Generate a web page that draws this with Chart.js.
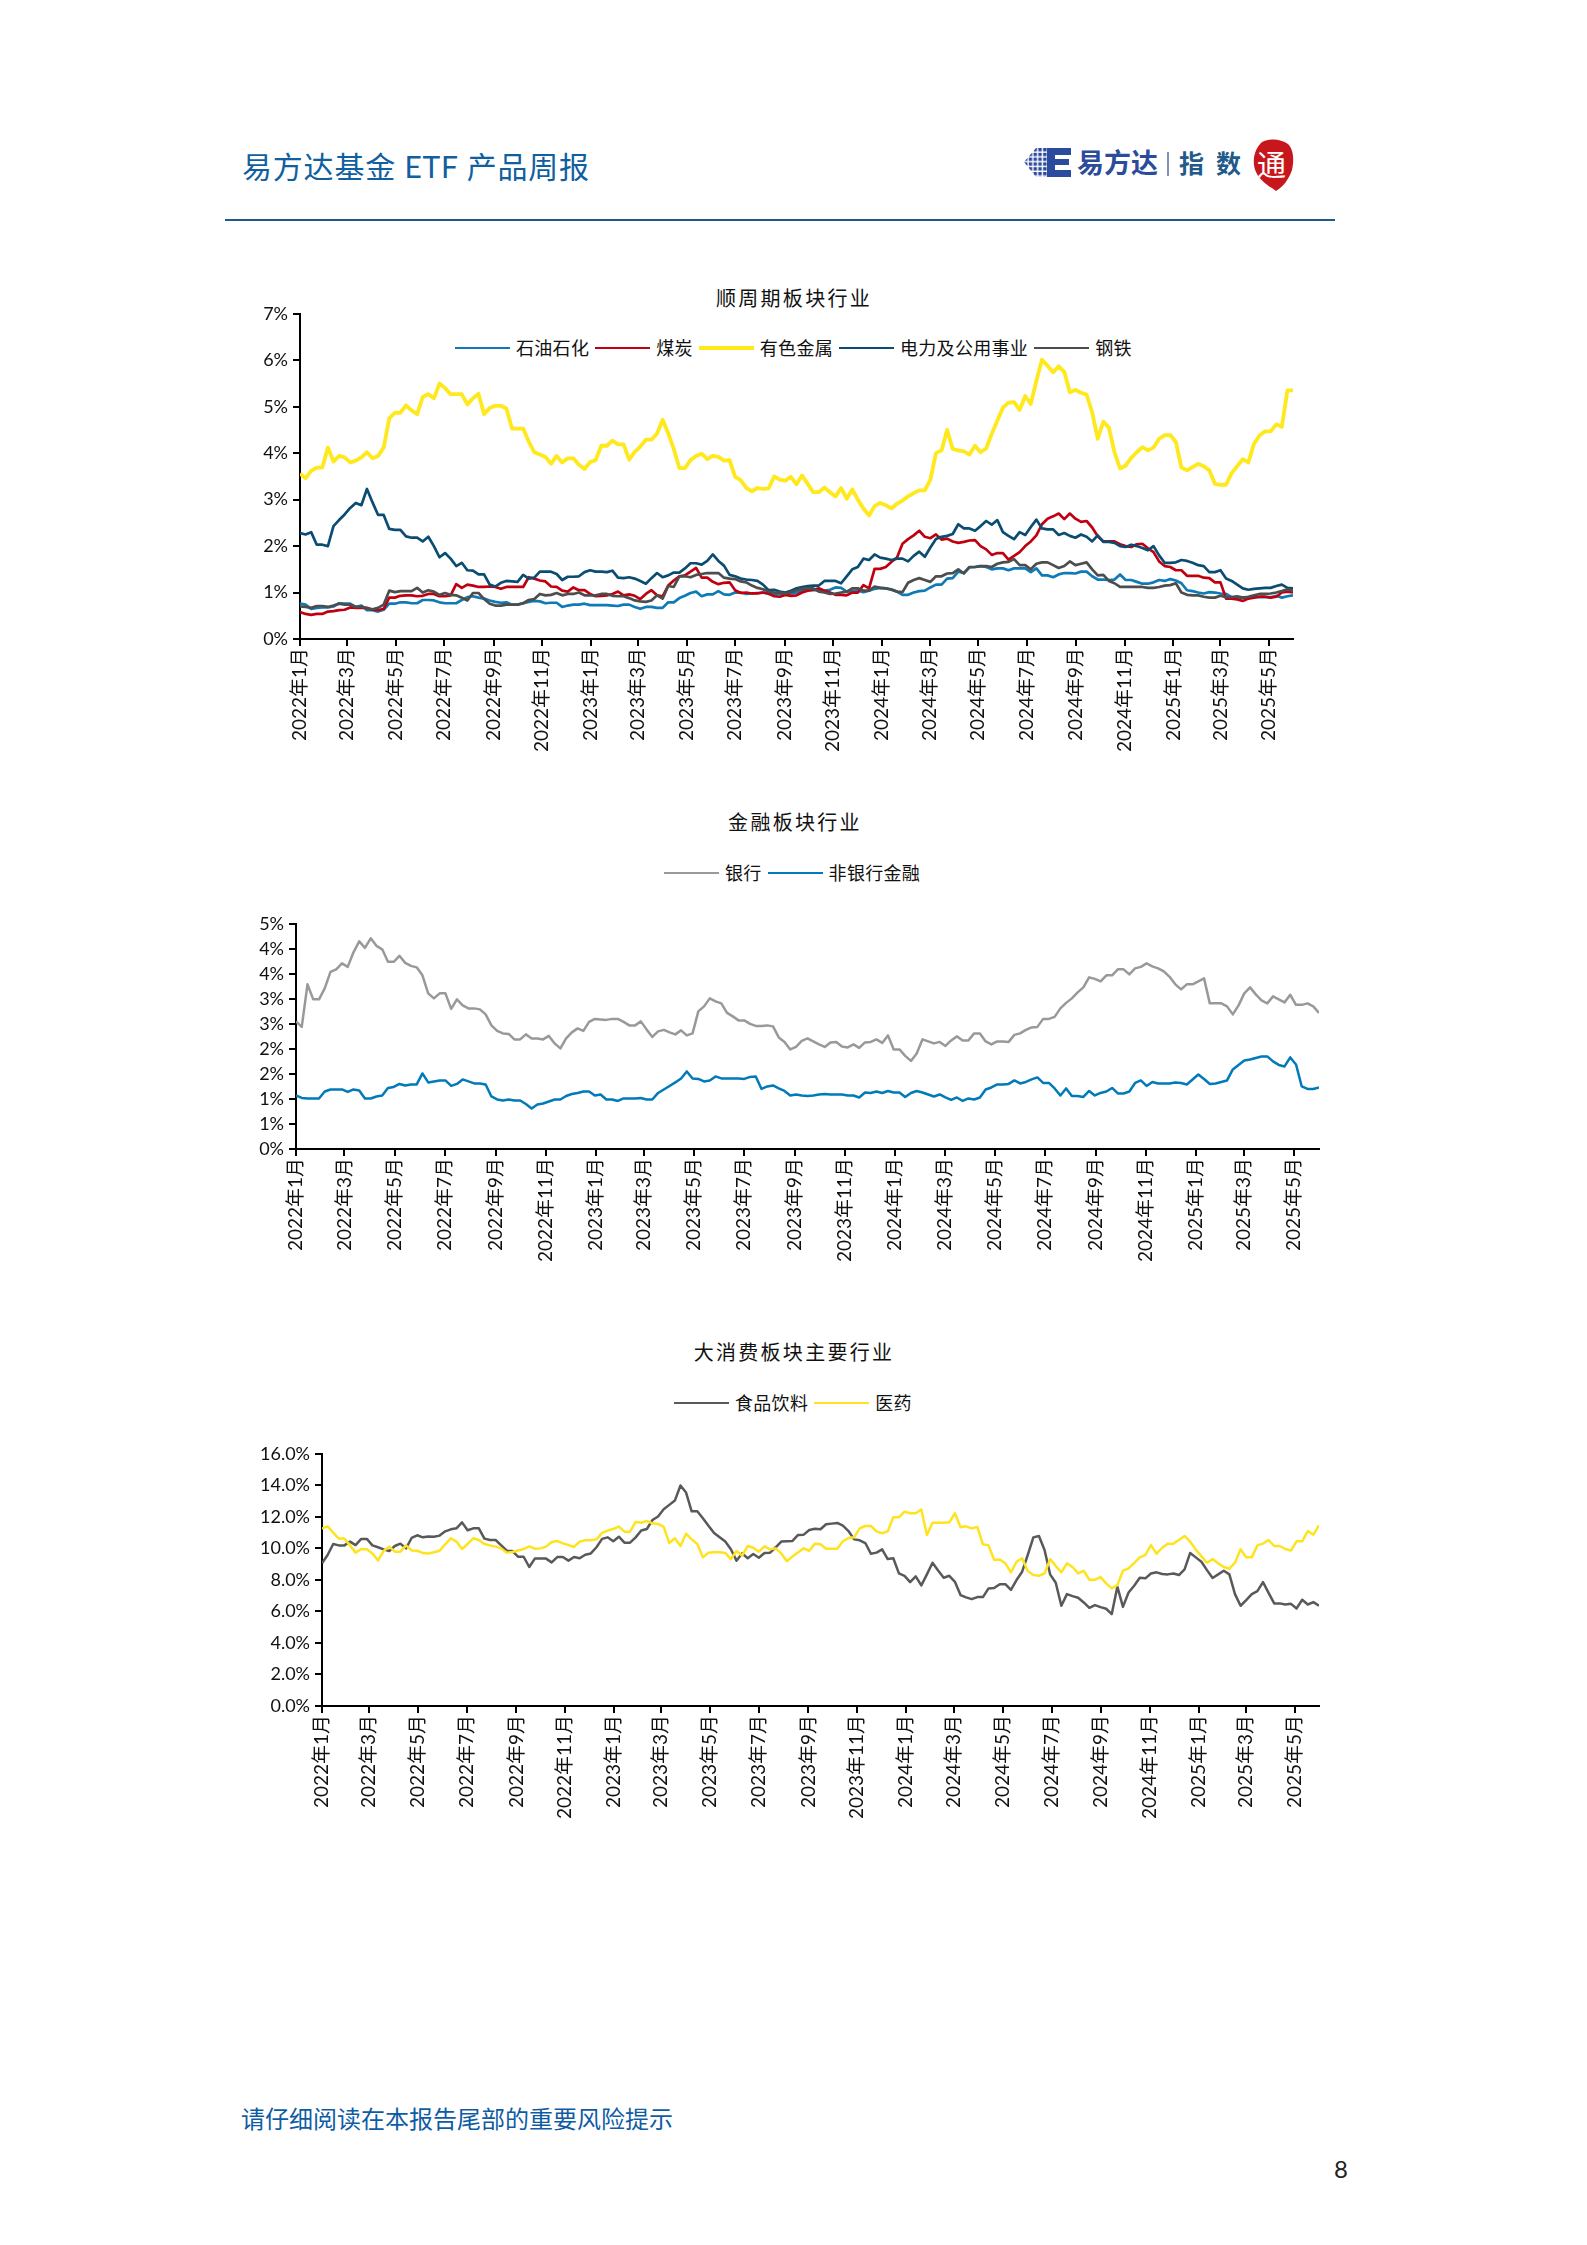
<!DOCTYPE html>
<html lang="zh-CN">
<head>
<meta charset="utf-8">
<title>易方达基金 ETF 产品周报</title>
<script src="https://cdn.jsdelivr.net/npm/chart.js@4"></script>
<style>
  html, body { margin: 0; padding: 0; background: #fff; }
  #page { position: relative; width: 1587px; height: 2245px; overflow: hidden; font-family: Lato, "Noto Sans CJK SC", sans-serif; color: #111; }
  #page > * { position: absolute; }
  .header { left: 242px; top: 144px; font-size: 30px; line-height: 44px; color: #10609f; letter-spacing: .8px; white-space: pre; }
  .rule { left: 225px; top: 219px; width: 1110px; height: 1.5px; background: #1d5a8c; }
  .footer { left: 241px; top: 2102px; font-size: 24px; line-height: 34px; color: #0f5ca5; }
  .pageno { left: 1334px; top: 2154px; font-size: 24px; line-height: 30px; color: #222; }
  .title { width: 400px; margin-left: -200px; text-align: center; font-size: 20px; line-height: 28px; letter-spacing: 2.3px; }
  .legend { display: flex; align-items: center; height: 24px; font-size: 18px; line-height: 24px; white-space: nowrap; letter-spacing: .3px; }
  .legend i { display: block; width: 55px; height: 3px; margin: 0 6px 0 6px; }
  .legend i:first-child { margin-left: 0; }
  canvas { display: block; }
</style>
</head>
<body>
<div id="page">
  <div class="header">易方达基金 ETF 产品周报</div>
  <svg style="left:1020px;top:135px" width="280" height="60" viewBox="1020 135 280 60">
    <defs><pattern id="dots" x="1024" y="148" width="4.8" height="4.8" patternUnits="userSpaceOnUse"><rect width="3.4" height="3.4" fill="#2b4a9c"/></pattern></defs>
    <polygon points="1024,162 1036,148 1048,148 1048,177 1036,177" fill="url(#dots)"/>
    <path d="M1047 148h24v7h-16v4h14v6h-14v5h16v7h-24z" fill="#2a4b9e"/>
    <text x="1077" y="173" font-size="27" font-weight="700" fill="#2b4c9b" font-family="Noto Sans CJK SC">易方达</text>
    <rect x="1167" y="152" width="2" height="24" fill="#7f93b8"/>
    <text x="1179" y="173" font-size="25" font-weight="700" fill="#1f5a8a" font-family="Noto Sans CJK SC">指</text>
    <text x="1216" y="173" font-size="25" font-weight="700" fill="#1f5a8a" font-family="Noto Sans CJK SC">数</text>
    <path d="M1262 142c8-4 19-3 26 2 6 6 6 17 4 26-3 9-9 17-16 21-7-5-16-10-20-19-5-11-1-24 6-30z" fill="#c8161d"/>
    <text x="1257" y="176" font-size="29" fill="#fff" font-family="Noto Sans CJK SC">通</text>
  </svg>
  <div class="rule"></div>

  <div class="title" style="left:794px;top:284px">顺周期板块行业</div>
  <div class="legend" id="legend1" style="left:455px;top:336px"></div>
  <canvas id="chart1" style="left:220px;top:298px" width="1100" height="472"></canvas>

  <div class="title" style="left:795px;top:808px">金融板块行业</div>
  <div class="legend" id="legend2" style="left:664px;top:861px"></div>
  <canvas id="chart2" style="left:220px;top:908px" width="1120" height="372"></canvas>

  <div class="title" style="left:794px;top:1338px">大消费板块主要行业</div>
  <div class="legend" id="legend3" style="left:674px;top:1391px"></div>
  <canvas id="chart3" style="left:220px;top:1438px" width="1120" height="402"></canvas>

  <div class="footer">请仔细阅读在本报告尾部的重要风险提示</div>
  <div class="pageno">8</div>
</div>

<script>
/* ============================
   AXIS LABELS
   ============================ */

const tickDates = [
  "2022-01-01", "2022-03-01", "2022-05-01", "2022-07-01", "2022-09-01", "2022-11-01",
  "2023-01-01", "2023-03-01", "2023-05-01", "2023-07-01", "2023-09-01", "2023-11-01",
  "2024-01-01", "2024-03-01", "2024-05-01", "2024-07-01", "2024-09-01", "2024-11-01",
  "2025-01-01", "2025-03-01", "2025-05-01"
];

const tickLabels = [
  "2022年1月", "2022年3月", "2022年5月", "2022年7月", "2022年9月", "2022年11月",
  "2023年1月", "2023年3月", "2023年5月", "2023年7月", "2023年9月", "2023年11月",
  "2024年1月", "2024年3月", "2024年5月", "2024年7月", "2024年9月", "2024年11月",
  "2025年1月", "2025年3月", "2025年5月"
];

const cycleTicks = ["0%", "1%", "2%", "3%", "4%", "5%", "6%", "7%"];
const financeTicks = ["0%", "1%", "1%", "2%", "2%", "3%", "3%", "4%", "4%", "5%"];
const consumerTicks = ["0.0%", "2.0%", "4.0%", "6.0%", "8.0%", "10.0%", "12.0%", "14.0%", "16.0%"];

/* ============================
   WEEKLY SERIES (%)
   ============================ */

const oil = [
  .76,.74,.65,.67,.68,.68,.70,.77,.76,.76,
  .69,.72,.62,.62,.59,.63,.76,.76,.79,.79,
  .77,.77,.84,.84,.83,.79,.77,.77,.77,.84,
  .90,.92,.89,.87,.83,.80,.78,.79,.74,.74,
  .77,.80,.82,.81,.77,.78,.78,.69,.72,.74,
  .74,.76,.73,.73,.73,.73,.72,.71,.74,.74,
  .69,.65,.69,.69,.67,.67,.79,.79,.88,.93,
  .99,1.02,.92,.96,.96,1.03,.96,.95,1.00,1.00,
  .97,.98,.99,1.00,.97,.95,.97,.98,.98,1.00,
  1.03,1.05,1.05,1.05,1.04,1.06,1.11,1.10,1.02,1.03,
  1.04,1.01,1.04,1.08,1.10,1.09,1.07,1.02,.95,.95,
  1.00,1.03,1.04,1.11,1.17,1.17,1.30,1.31,1.45,1.42,
  1.54,1.55,1.57,1.55,1.50,1.52,1.52,1.48,1.52,1.52,
  1.52,1.44,1.52,1.37,1.37,1.33,1.39,1.42,1.42,1.41,
  1.45,1.45,1.35,1.28,1.28,1.27,1.28,1.39,1.27,1.27,
  1.23,1.19,1.19,1.22,1.27,1.25,1.29,1.26,1.20,1.05,
  1.03,1.00,.98,1.01,1.00,.98,.97,.90,.89,.89,
  .89,.91,.90,.90,.90,.93,.89,.92,.94
];

const coal = [
  .58,.54,.52,.54,.54,.59,.60,.62,.63,.68,
  .67,.67,.67,.63,.62,.65,.89,.89,.93,.94,
  .94,.92,.93,.97,.97,.92,.92,.94,1.18,1.10,
  1.17,1.15,1.12,1.12,1.13,1.12,1.08,1.12,1.12,1.12,
  1.12,1.33,1.30,1.26,1.24,1.13,1.12,1.04,1.02,1.11,
  1.05,1.05,.97,.92,.93,.94,.97,1.02,.94,.96,
  .93,.86,.97,1.05,.94,.92,1.15,1.26,1.35,1.37,
  1.45,1.53,1.32,1.32,1.23,1.18,1.21,1.22,1.05,.99,
  1.00,.98,.98,1.00,.98,.92,.91,.95,.93,.94,
  1.00,1.04,1.06,1.09,1.04,1.00,.95,.95,.94,1.00,
  1.00,1.16,1.09,1.51,1.51,1.55,1.66,1.75,2.05,2.15,
  2.23,2.33,2.20,2.17,2.25,2.14,2.16,2.10,2.07,2.09,
  2.12,2.13,2.00,1.93,1.81,1.85,1.85,1.71,1.79,1.87,
  2.00,2.10,2.23,2.47,2.59,2.64,2.70,2.58,2.70,2.59,
  2.52,2.54,2.40,2.21,2.10,2.10,2.10,2.04,2.00,1.98,
  2.04,2.05,1.95,1.87,1.67,1.57,1.55,1.48,1.48,1.36,
  1.36,1.36,1.32,1.31,1.22,1.22,.87,.87,.85,.82,
  .87,.89,.91,.91,.89,.91,1.00,1.02,1.00
];

const metals = [
  3.56,3.46,3.62,3.69,3.69,4.12,3.82,3.94,3.91,3.80,
  3.84,3.91,4.02,3.89,3.94,4.12,4.75,4.87,4.87,5.03,
  4.92,4.84,5.21,5.27,5.18,5.50,5.40,5.27,5.27,5.27,
  5.05,5.18,5.28,4.84,4.97,5.02,5.02,4.96,4.53,4.53,
  4.53,4.25,4.02,3.97,3.92,3.77,3.94,3.80,3.89,3.89,
  3.75,3.66,3.81,3.85,4.16,4.16,4.27,4.19,4.19,3.86,
  4.03,4.14,4.29,4.29,4.42,4.72,4.43,4.09,3.68,3.68,
  3.85,3.94,3.99,3.87,3.94,3.92,3.84,3.85,3.49,3.42,
  3.25,3.18,3.25,3.23,3.24,3.50,3.43,3.41,3.49,3.33,
  3.52,3.34,3.16,3.16,3.26,3.16,3.07,3.25,3.02,3.22,
  3.00,2.81,2.66,2.86,2.93,2.88,2.81,2.91,2.98,3.07,
  3.14,3.20,3.20,3.43,4.00,4.06,4.50,4.09,4.06,4.04,
  3.97,4.16,4.02,4.10,4.42,4.70,4.98,5.09,5.10,4.93,
  5.23,5.06,5.56,6.01,5.88,5.74,5.87,5.75,5.31,5.36,
  5.30,5.26,4.88,4.31,4.68,4.55,4.02,3.67,3.73,3.90,
  4.02,4.13,4.06,4.12,4.31,4.39,4.39,4.24,3.69,3.63,
  3.70,3.77,3.72,3.63,3.34,3.32,3.32,3.57,3.72,3.87,
  3.80,4.20,4.38,4.47,4.47,4.62,4.57,5.35,5.35
];

const power = [
  2.28,2.25,2.30,2.03,2.03,2.00,2.43,2.56,2.68,2.82,
  2.93,2.88,3.23,2.94,2.67,2.67,2.37,2.35,2.35,2.21,
  2.18,2.18,2.10,2.20,2.00,1.76,1.85,1.73,1.57,1.64,
  1.48,1.47,1.39,1.39,1.17,1.13,1.21,1.25,1.24,1.23,
  1.38,1.30,1.32,1.45,1.45,1.45,1.40,1.27,1.34,1.34,
  1.35,1.44,1.48,1.45,1.45,1.44,1.47,1.32,1.31,1.33,
  1.30,1.25,1.19,1.31,1.42,1.33,1.37,1.43,1.43,1.52,
  1.63,1.63,1.60,1.68,1.82,1.68,1.58,1.38,1.35,1.30,
  1.28,1.27,1.25,1.17,1.05,1.06,1.02,1.00,1.04,1.09,
  1.12,1.14,1.15,1.15,1.25,1.25,1.25,1.20,1.35,1.50,
  1.55,1.73,1.70,1.82,1.75,1.73,1.70,1.73,1.73,1.67,
  1.79,1.88,1.77,1.97,2.15,2.20,2.22,2.26,2.47,2.38,
  2.38,2.33,2.43,2.54,2.46,2.56,2.30,2.22,2.15,2.30,
  2.24,2.41,2.57,2.38,2.36,2.36,2.24,2.28,2.22,2.18,
  2.25,2.20,2.10,2.23,2.09,2.09,2.07,2.00,1.98,2.03,
  2.00,1.96,1.91,2.00,1.80,1.64,1.64,1.65,1.70,1.68,
  1.64,1.59,1.57,1.44,1.44,1.48,1.30,1.25,1.17,1.09,
  1.06,1.08,1.09,1.10,1.10,1.14,1.17,1.10,1.09
];

const steel = [
  .70,.69,.67,.71,.71,.69,.72,.76,.74,.74,
  .69,.70,.66,.64,.67,.74,1.04,1.01,1.03,1.03,
  1.03,1.10,1.00,1.05,1.02,.95,.99,.95,.94,.89,
  .83,.99,.99,.86,.76,.72,.72,.74,.74,.74,
  .77,.84,.86,.97,.94,.95,.99,.94,.97,.97,
  1.00,.94,.94,.94,.97,.97,.93,.92,.92,.88,
  .83,.81,.80,.83,.94,.87,1.14,1.12,1.35,1.35,
  1.33,1.38,1.40,1.42,1.42,1.42,1.32,1.30,1.29,1.24,
  1.22,1.15,1.10,1.07,1.02,1.00,1.00,.98,1.01,1.05,
  1.08,1.09,1.09,1.02,1.00,.97,.98,1.00,1.02,1.09,
  1.09,1.04,1.04,1.13,1.10,1.09,1.06,1.02,1.01,1.21,
  1.27,1.31,1.27,1.23,1.35,1.35,1.41,1.42,1.50,1.41,
  1.55,1.55,1.57,1.57,1.55,1.62,1.65,1.66,1.72,1.59,
  1.59,1.50,1.62,1.65,1.65,1.59,1.53,1.57,1.67,1.59,
  1.62,1.65,1.50,1.37,1.38,1.25,1.20,1.12,1.12,1.12,
  1.12,1.12,1.10,1.10,1.12,1.15,1.16,1.20,1.00,.95,
  .94,.94,.91,.89,.89,.93,.90,.90,.92,.89,
  .91,.94,.97,.97,.98,1.00,1.03,1.07,1.04
];

const banks = [
  2.55,2.44,3.29,2.99,2.99,3.21,3.54,3.59,3.71,3.64,
  3.93,4.15,4.02,4.21,4.06,3.99,3.74,3.74,3.86,3.72,
  3.66,3.63,3.47,3.11,3.01,3.11,3.11,2.80,2.99,2.87,
  2.81,2.81,2.79,2.69,2.47,2.36,2.31,2.30,2.19,2.19,
  2.29,2.21,2.21,2.19,2.26,2.11,2.01,2.21,2.33,2.41,
  2.36,2.54,2.60,2.59,2.58,2.60,2.60,2.54,2.47,2.47,
  2.55,2.39,2.24,2.35,2.38,2.33,2.29,2.37,2.27,2.31,
  2.75,2.85,3.01,2.95,2.91,2.72,2.65,2.57,2.57,2.50,
  2.46,2.46,2.47,2.45,2.23,2.14,1.99,2.04,2.16,2.21,
  2.15,2.09,2.04,2.13,2.14,2.05,2.03,2.09,2.02,2.13,
  2.14,2.19,2.12,2.27,1.99,1.99,1.86,1.76,1.91,2.19,
  2.15,2.11,2.14,2.06,2.17,2.25,2.17,2.17,2.31,2.31,
  2.15,2.09,2.15,2.15,2.14,2.28,2.31,2.38,2.43,2.44,
  2.60,2.60,2.64,2.81,2.92,3.01,3.13,3.23,3.43,3.40,
  3.35,3.47,3.47,3.59,3.59,3.49,3.61,3.64,3.71,3.65,
  3.61,3.55,3.44,3.29,3.19,3.29,3.29,3.35,3.41,2.91,
  2.91,2.91,2.85,2.69,2.87,3.11,3.23,3.09,2.97,2.91,
  3.05,2.99,2.93,3.08,2.88,2.88,2.91,2.85,2.72
];

const nonBanks = [
  1.07,1.02,1.01,1.01,1.01,1.15,1.19,1.19,1.19,1.14,
  1.19,1.17,1.01,1.01,1.05,1.07,1.22,1.24,1.30,1.27,
  1.29,1.29,1.51,1.33,1.35,1.37,1.37,1.26,1.30,1.39,
  1.35,1.31,1.31,1.29,1.05,.99,.97,.99,.97,.97,
  .90,.81,.89,.91,.95,.99,.99,1.06,1.10,1.12,
  1.15,1.15,1.07,1.09,.99,.99,.96,1.01,1.01,1.01,
  1.02,.99,.99,1.12,1.19,1.26,1.33,1.41,1.55,1.41,
  1.40,1.35,1.37,1.45,1.41,1.41,1.41,1.41,1.40,1.44,
  1.45,1.20,1.25,1.27,1.21,1.16,1.07,1.09,1.07,1.06,
  1.07,1.09,1.10,1.09,1.09,1.09,1.07,1.07,1.03,1.13,
  1.12,1.15,1.12,1.16,1.13,1.13,1.04,1.12,1.16,1.13,
  1.09,1.05,1.09,1.03,.98,1.03,.96,1.01,.99,1.03,
  1.19,1.23,1.29,1.29,1.30,1.37,1.31,1.34,1.39,1.43,
  1.32,1.32,1.21,1.07,1.21,1.06,1.06,1.04,1.16,1.07,
  1.12,1.15,1.22,1.11,1.11,1.15,1.32,1.37,1.26,1.34,
  1.31,1.31,1.31,1.33,1.32,1.29,1.39,1.49,1.40,1.30,
  1.31,1.34,1.37,1.59,1.68,1.77,1.79,1.82,1.85,1.85,
  1.75,1.68,1.65,1.83,1.69,1.25,1.20,1.20,1.23
];

const foodBeverage = [
  9.05,9.58,10.28,10.19,10.19,10.43,10.21,10.60,10.60,10.19,
  10.07,9.94,9.83,10.15,10.30,10.00,10.66,10.83,10.70,10.76,
  10.74,10.81,11.08,11.21,11.27,11.65,11.15,11.27,11.27,10.62,
  10.53,10.53,10.19,9.85,9.83,9.47,9.47,8.82,9.35,9.35,
  9.35,9.11,9.45,9.45,9.22,9.45,9.37,9.60,9.68,10.07,
  10.60,10.70,10.45,10.74,10.36,10.36,10.70,11.13,11.23,11.80,
  12.02,12.48,12.76,13.03,13.99,13.54,12.35,12.35,11.91,11.44,
  10.98,10.70,10.43,9.94,9.22,9.68,9.37,9.64,9.41,9.71,
  9.73,10.07,10.43,10.45,10.47,10.85,10.87,11.17,11.25,11.21,
  11.53,11.57,11.61,11.44,11.10,10.57,10.51,10.34,9.66,9.73,
  9.94,9.32,9.37,8.41,8.26,7.86,8.22,7.65,8.35,9.09,
  8.60,8.14,8.26,7.88,7.04,6.89,6.78,6.91,6.91,7.46,
  7.48,7.73,7.73,7.37,7.99,8.52,9.58,10.70,10.79,9.90,
  8.35,7.82,6.36,7.10,6.97,6.87,6.57,6.23,6.40,6.27,
  6.17,5.83,7.57,6.29,7.20,7.63,8.14,8.10,8.41,8.48,
  8.37,8.35,8.41,8.31,8.67,9.71,9.43,9.15,8.62,8.12,
  8.35,8.58,8.35,7.10,6.36,6.72,7.10,7.29,7.86,7.18,
  6.51,6.51,6.44,6.48,6.19,6.74,6.44,6.59,6.36
];

const pharma = [
  11.25,11.40,11.00,10.62,10.62,10.19,9.73,9.96,9.94,9.68,
  9.24,9.83,10.11,9.79,9.79,10.19,9.87,9.85,9.71,9.68,
  9.75,9.85,10.26,10.64,10.43,9.96,10.28,10.64,10.53,10.28,
  10.19,10.11,10.00,9.73,9.77,9.87,9.96,10.13,9.98,10.00,
  10.11,10.40,10.47,10.32,10.21,10.09,10.43,10.51,10.51,10.57,
  10.98,11.13,11.23,11.38,11.06,11.06,11.68,11.63,11.74,11.59,
  11.55,11.36,10.34,10.64,10.15,10.93,10.57,10.28,9.43,9.73,
  9.75,9.75,9.71,9.32,9.83,9.54,10.15,10.04,9.79,10.13,
  9.94,10.00,9.68,9.18,9.49,9.75,10.00,9.85,10.30,10.26,
  9.98,9.98,9.98,10.45,10.66,10.70,11.27,11.42,11.42,11.08,
  10.96,11.08,11.97,11.97,12.33,12.23,12.23,12.46,10.85,11.63,
  11.63,11.63,11.65,12.23,11.34,11.40,11.27,11.36,10.26,10.19,
  9.28,9.30,9.05,8.48,9.15,9.37,8.56,8.31,8.26,8.41,
  9.32,8.88,8.48,9.05,8.82,8.41,8.58,8.01,8.01,8.18,
  7.78,7.46,7.67,8.58,8.73,9.07,9.43,9.58,10.21,9.66,
  10.04,10.30,10.30,10.53,10.79,10.43,9.92,9.51,9.09,9.32,
  9.05,8.82,8.71,9.09,9.94,9.43,9.43,10.19,10.30,10.53,
  10.15,10.15,9.96,9.87,10.45,10.45,11.10,10.87,11.46
];

/* ============================
   CHART HELPERS
   ============================ */

const firstDay = Date.UTC(2022, 0, 1);
const dayMs = 86400000;
const tickDays = tickDates.map(d => (Date.parse(d) - firstDay) / dayMs);
const yFont = { family: 'Lato, "Noto Sans CJK SC", sans-serif', size: 18 };
const xFont = { family: 'Lato, "Noto Sans CJK SC", sans-serif', size: 19 };

// one point a week, the x axis runs in days so the month ticks land unevenly
function weekly(values) {
  return values.map((v, i) => ({ x: i * 7, y: v }));
}

function makeLegend(id, names, colors, widths) {
  const box = document.getElementById(id);
  names.forEach((name, i) => {
    const line = document.createElement("i");
    line.style.background = colors[i];
    line.style.height = widths[i] + "px";
    const label = document.createElement("span");
    label.textContent = name;
    box.append(line, label);
  });
}

function makeChart(canvasId, cfg) {
  const canvas = document.getElementById(canvasId);
  return new Chart(canvas.getContext("2d"), {
    type: "line",
    data: {
      datasets: cfg.series.map((values, i) => ({
        label: cfg.names[i],
        data: weekly(values),
        borderColor: cfg.colors[i],
        borderWidth: cfg.widths[i],
        pointRadius: 0,
        tension: 0,
        borderJoinStyle: "round",
        // later series sit on top, as in the source chart
        order: cfg.series.length - i
      }))
    },
    options: {
      responsive: false,
      animation: false,
      devicePixelRatio: 1,
      layout: { padding: { top: cfg.top, right: cfg.right, left: 0, bottom: 0 } },
      plugins: { legend: { display: false }, title: { display: false }, tooltip: { enabled: false } },
      scales: {
        x: {
          type: "linear",
          min: 0,
          max: (oil.length - 1) * 7,
          afterBuildTicks: scale => { scale.ticks = tickDays.map(value => ({ value })); },
          afterFit: scale => { scale.height = cfg.bottomSpace; },
          ticks: {
            autoSkip: false,
            minRotation: 90,
            maxRotation: 90,
            padding: 2,
            color: "#111",
            font: xFont,
            callback: (value, index) => tickLabels[index]
          },
          grid: { drawOnChartArea: false, color: "#000", lineWidth: 2, tickLength: 7 },
          border: { color: "#000", width: 2 }
        },
        y: {
          min: 0,
          max: cfg.yMax,
          afterFit: scale => { scale.width = cfg.left; },
          ticks: {
            stepSize: cfg.yMax / (cfg.yTicks.length - 1),
            padding: 5,
            color: "#111",
            font: yFont,
            callback: (value, index) => cfg.yTicks[index]
          },
          grid: { drawOnChartArea: false, color: "#000", lineWidth: 2, tickLength: 7 },
          border: { color: "#000", width: 2 }
        }
      }
    }
  });
}

/* ============================
   THE THREE PANELS
   ============================ */

const cycleNames = ["石油石化", "煤炭", "有色金属", "电力及公用事业", "钢铁"];
const cycleColors = ["#0f7bb6", "#c00010", "#ffe81c", "#0b4d72", "#4d4d4d"];
const cycleWidths = [2.7, 2.7, 3.8, 2.7, 2.7];
const financeNames = ["银行", "非银行金融"];
const financeColors = ["#999999", "#007ab8"];
const financeWidths = [2.5, 2.5];
const consumerNames = ["食品饮料", "医药"];
const consumerColors = ["#595959", "#ffe31f"];
const consumerWidths = [2.5, 2.5];

makeLegend("legend1", cycleNames, cycleColors, cycleWidths);
makeLegend("legend2", financeNames, financeColors, financeWidths);
makeLegend("legend3", consumerNames, consumerColors, consumerWidths);

makeChart("chart1", {
  series: [oil, coal, metals, power, steel],
  names: cycleNames,
  colors: cycleColors,
  widths: cycleWidths,
  yMax: 7,
  yTicks: cycleTicks,
  left: 80,
  top: 11,
  right: 27,
  bottomSpace: 131
});

makeChart("chart2", {
  series: [banks, nonBanks],
  names: financeNames,
  colors: financeColors,
  widths: financeWidths,
  yMax: 4.5,
  yTicks: financeTicks,
  left: 76,
  top: 12,
  right: 21,
  bottomSpace: 131
});

makeChart("chart3", {
  series: [foodBeverage, pharma],
  names: consumerNames,
  colors: consumerColors,
  widths: consumerWidths,
  yMax: 16,
  yTicks: consumerTicks,
  left: 102,
  top: 12,
  right: 21,
  bottomSpace: 134
});
</script>
</body>
</html>
